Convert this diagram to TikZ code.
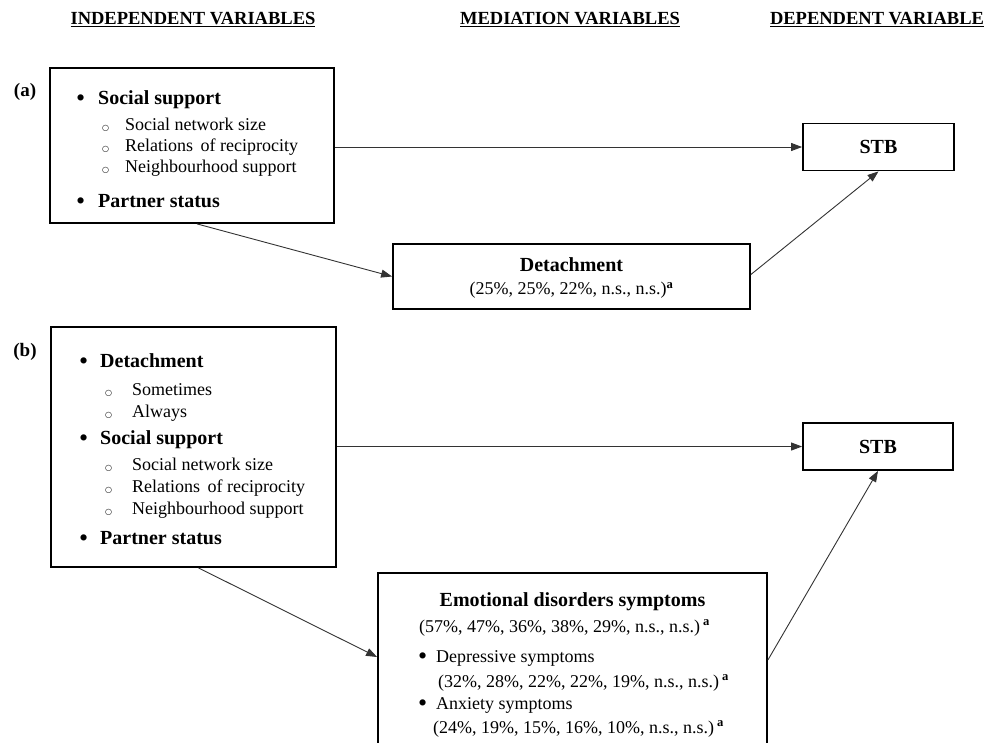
\documentclass[tikz,border=0pt]{standalone}
\usepackage{fontspec}
\setmainfont{Liberation Serif}
\newfontfamily\symfont{DejaVu Sans}
\usetikzlibrary{arrows.meta}
\tikzset{
  box/.style={draw=black, line width=1.8pt, inner sep=0pt},
  hdr/.style={font=\fontsize{18.5}{22}\selectfont\bfseries, inner sep=0pt},
  big/.style={font=\fontsize{20}{24}\selectfont\bfseries, inner sep=0pt, anchor=base west},
  small/.style={font=\fontsize{18}{21}\selectfont, inner sep=0pt, anchor=base west},
  bul/.style={font=\fontsize{26}{28}\selectfont, inner sep=0pt, anchor=base west},
  circ/.style={font=\fontsize{8}{10}\selectfont\symfont, inner sep=0pt, anchor=base west},
  lab/.style={font=\fontsize{19}{22}\selectfont\bfseries, inner sep=0pt},
  conn/.style={draw=black!80, line width=0.9pt, -{Triangle[length=11pt,width=8pt]}}
}
\newcommand{\supa}{\textsuperscript{\textbf{a}}}
\begin{document}
\begin{tikzpicture}[x=1pt,y=-1pt]
\useasboundingbox (0,0) rectangle (998,742);
\clip (0,0) rectangle (998,742);
% headers
\node[hdr] (h1) at (193,20) {\underline{INDEPENDENT VARIABLES}};
\node[hdr] (h2) at (570,20) {\underline{MEDIATION VARIABLES}};
\node[hdr] (h3) at (877,20) {\underline{DEPENDENT VARIABLE}};
% (a)
\node[lab] (la) at (25,92) {(a)};
\node[box, minimum width=284pt, minimum height=155pt] (a1) at (192,145.5) {};
\node[bul] (a1b1) at (76,106) {•};
\node[big] (a1t1) at (98,104) {Social support};
\node[circ] (a1c1) at (102,130) {○};
\node[small] (a1t2) at (125,130) {Social network size};
\node[circ] (a1c2) at (102,151) {○};
\node[small] (a1t3) at (125,151) {Relations\ \,of reciprocity};
\node[circ] (a1c3) at (102,172) {○};
\node[small] (a1t4) at (125,172) {Neighbourhood support};
\node[bul] (a1b2) at (76,209) {•};
\node[big] (a1t5) at (98,207) {Partner status};
\node[box, minimum width=151pt, minimum height=47pt] (stbA) at (878.5,147) {};
\node[big, anchor=center] (stbAt) at (878.5,147) {STB};
\node[box, minimum width=357pt, minimum height=65pt] (det) at (571.5,276.5) {};
\node[big, anchor=center] (dett1) at (571.5,265) {Detachment};
\node[small, anchor=center] (dett2) at (571.5,290) {(25\%, 25\%, 22\%, n.s., n.s.)\supa};
\draw[conn] (a1.east |- stbA.west) -- (stbA.west);
\draw[conn] ([xshift=5pt]a1.south) -- (det.west);
\draw[conn] ([yshift=2pt]det.east) -- (stbA.south);
% (b)
\node[lab] (lb) at (25,352) {(b)};
\node[box, minimum width=285pt, minimum height=240pt] (b1) at (193.5,447) {};
\node[bul] (b1b1) at (79,369) {•};
\node[big] (b1t1) at (100,367) {Detachment};
\node[circ] (b1c1) at (105,395) {○};
\node[small] (b1t2) at (132,395) {Sometimes};
\node[circ] (b1c2) at (105,417) {○};
\node[small] (b1t3) at (132,417) {Always};
\node[bul] (b1b2) at (79,446) {•};
\node[big] (b1t4) at (100,444) {Social support};
\node[circ] (b1c3) at (105,470) {○};
\node[small] (b1t5) at (132,470) {Social network size};
\node[circ] (b1c4) at (105,492) {○};
\node[small] (b1t6) at (132,492) {Relations\ \,of reciprocity};
\node[circ] (b1c5) at (105,514) {○};
\node[small] (b1t7) at (132,514) {Neighbourhood support};
\node[bul] (b1b3) at (79,546) {•};
\node[big] (b1t8) at (100,544) {Partner status};
\node[box, minimum width=150pt, minimum height=47pt] (stbB) at (878,446.5) {};
\node[big, anchor=center] (stbBt) at (878,446.5) {STB};
\node[box, minimum width=389pt, minimum height=190pt] (emo) at (572.5,668) {};
\node[big, anchor=center] (emot1) at (572.5,602) {Emotional disorders\ symptoms};
\node[small] (emot2) at (419,632) {(57\%, 47\%, 36\%, 38\%, 29\%, n.s., n.s.)\,\supa};
\node[bul] (emob1) at (418,664) {•};
\node[small] (emot3) at (436,662) {Depressive symptoms};
\node[small] (emot4) at (438,687) {(32\%, 28\%, 22\%, 22\%, 19\%, n.s., n.s.)\,\supa};
\node[bul] (emob2) at (418,711) {•};
\node[small] (emot5) at (436,709) {Anxiety\ symptoms};
\node[small] (emot6) at (433,733) {(24\%, 19\%, 15\%, 16\%, 10\%, n.s., n.s.)\,\supa};
\draw[conn] (b1.east |- stbB.west) -- (stbB.west);
\draw[conn] ([xshift=5pt]b1.south) -- ([yshift=11pt]emo.west);
\draw[conn] ([yshift=8pt]emo.east) -- (stbB.south);
\end{tikzpicture}
\end{document}
